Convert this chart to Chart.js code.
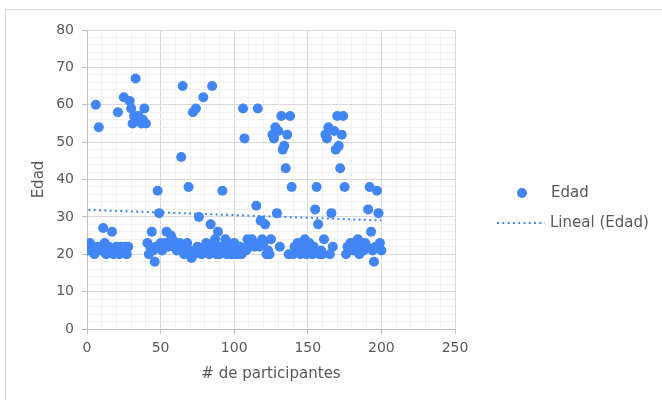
<!DOCTYPE html>
<html>
<head>
<meta charset="utf-8">
<script src="https://cdn.jsdelivr.net/npm/chart.js@4.4.1/dist/chart.umd.min.js"></script>
<style>
  html, body { margin: 0; padding: 0; background: #fff; }
  #wrap { position: relative; width: 662px; height: 400px; overflow: hidden; }
  #frame { position: absolute; left: 5px; top: 9px; width: 700px; height: 420px; border: 1px solid #d9d9d9; box-sizing: border-box; }
  canvas { position: absolute; left: 0; top: 0; }
</style>
</head>
<body>
<div id="wrap">
  <div id="frame"></div>
  <canvas id="chart" width="662" height="400"></canvas>
</div>
<script>
// Edad de cada participante (participante 1..200)
const edades = [
  21, 23, 22, 21, 20, 60, 22, 54, 21, 22,
  27, 23, 20, 21, 22, 21, 26, 20, 21, 22,
  58, 20, 22, 21, 62, 22, 20, 22, 61, 59,
  55, 57, 67, 56, 57, 56, 55, 56, 59, 55,
  23, 20, 22, 26, 21, 18, 22, 37, 31, 23,
  21, 22, 23, 26, 22, 23, 25, 24, 22, 23,
  21, 22, 23, 46, 65, 20, 22, 23, 38, 21,
  19, 58, 20, 59, 22, 30, 21, 20, 62, 22,
  23, 21, 20, 28, 65, 22, 24, 20, 26, 20,
  22, 37, 21, 24, 20, 23, 21, 20, 22, 23,
  20, 21, 20, 22, 20, 59, 51, 21, 24, 23,
  22, 24, 23, 22, 33, 59, 22, 29, 24, 23,
  28, 20, 21, 20, 24, 52, 51, 54, 31, 53,
  22, 57, 48, 49, 43, 52, 20, 57, 38, 20,
  22, 21, 23, 22, 20, 23, 21, 24, 20, 22,
  23, 21, 20, 22, 32, 38, 28, 20, 21, 20,
  24, 52, 51, 54, 20, 31, 22, 53, 48, 57,
  49, 43, 52, 57, 38, 20, 22, 21, 23, 22,
  21, 23, 22, 24, 20, 23, 22, 21, 23, 22,
  32, 38, 26, 21, 18, 22, 37, 31, 23, 21
];
const participantes = edades.map((e, i) => i + 1);

const xTicks = [0, 50, 100, 150, 200, 250];
const yTicks = [0, 10, 20, 30, 40, 50, 60, 70, 80];

const puntos = participantes.map((p, i) => ({ x: p, y: edades[i] }));

// linea de tendencia lineal (minimos cuadrados), como en Excel
const n = edades.length;
const mx = participantes.reduce((a, b) => a + b, 0) / n;
const my = edades.reduce((a, b) => a + b, 0) / n;
let sxy = 0, sxx = 0;
for (let i = 0; i < n; i++) {
    sxy += (participantes[i] - mx) * (edades[i] - my);
    sxx += (participantes[i] - mx) * (participantes[i] - mx);
}
const pendiente = sxy / sxx;
const corte = my - pendiente * mx;
const xMin = participantes[0], xMax = participantes[n - 1];
const tendencia = [
    { x: xMin, y: corte + pendiente * xMin },
    { x: xMax, y: corte + pendiente * xMax }
];

const azul = '#4285f4';
const gris = '#595959';
const fuente = { family: 'DejaVu Sans', size: 14 };
const fuenteTitulo = { family: 'DejaVu Sans', size: 15 };

// leyenda dibujada a la derecha, como en el original
const leyenda = {
    id: 'leyenda',
    afterDraw(chart) {
        const ctx = chart.ctx;
        ctx.save();
        ctx.fillStyle = azul;
        ctx.beginPath();
        ctx.arc(522, 193, 5, 0, Math.PI * 2);
        ctx.fill();
        ctx.strokeStyle = azul;
        ctx.lineWidth = 2;
        ctx.setLineDash([2, 3.3]);
        ctx.beginPath();
        ctx.moveTo(497, 223);
        ctx.lineTo(545, 223);
        ctx.stroke();
        ctx.setLineDash([]);
        ctx.fillStyle = gris;
        ctx.font = '15px "DejaVu Sans"';
        ctx.textBaseline = 'middle';
        ctx.fillText('Edad', 551, 193);
        ctx.fillText('Lineal (Edad)', 550, 223);
        ctx.restore();
    }
};

new Chart(document.getElementById('chart'), {
    type: 'scatter',
    data: {
        datasets: [
            {
                label: 'Edad',
                data: puntos,
                backgroundColor: azul,
                borderColor: azul,
                pointRadius: 5,
                pointHoverRadius: 5,
                borderWidth: 0
            },
            {
                label: 'Lineal (Edad)',
                type: 'line',
                data: tendencia,
                borderColor: azul,
                borderWidth: 2,
                borderDash: [2, 3.3],
                pointRadius: 0,
                fill: false
            }
        ]
    },
    plugins: [leyenda],
    options: {
        responsive: false,
        animation: false,
        layout: { padding: { left: 0, right: 207, top: 30, bottom: 0 } },
        plugins: {
            legend: { display: false },
            tooltip: { enabled: false }
        },
        scales: {
            x: {
                type: 'linear',
                min: 0,
                max: 250,
                afterFit: s => { s.height = 71; },
                ticks: {
                    stepSize: 10,
                    color: gris,
                    font: fuente,
                    padding: 6,
                    maxRotation: 0,
                    autoSkip: false,
                    callback: v => xTicks.includes(v) ? v : ''
                },
                grid: {
                    color: c => xTicks.includes(c.tick.value) ? '#d9d9d9' : '#f0f0f0',
                    tickColor: c => xTicks.includes(c.tick.value) ? '#bfbfbf' : 'rgba(0,0,0,0)',
                    tickLength: 5
                },
                border: { color: '#bfbfbf' },
                title: {
                    display: true,
                    text: '# de participantes',
                    color: gris,
                    font: fuenteTitulo,
                    padding: { top: 0, bottom: 17 }
                }
            },
            y: {
                min: 0,
                max: 80,
                afterFit: s => { s.width = 87; },
                ticks: {
                    stepSize: 2,
                    color: gris,
                    font: fuente,
                    padding: 8,
                    autoSkip: false,
                    callback: v => yTicks.includes(v) ? v : ''
                },
                grid: {
                    color: c => yTicks.includes(c.tick.value) ? '#d9d9d9' : '#f0f0f0',
                    tickColor: c => yTicks.includes(c.tick.value) ? '#bfbfbf' : 'rgba(0,0,0,0)',
                    tickLength: 5
                },
                border: { color: '#bfbfbf' },
                title: {
                    display: true,
                    text: 'Edad',
                    color: gris,
                    font: fuenteTitulo,
                    padding: { top: 30, bottom: 0 }
                }
            }
        }
    }
});
</script>
</body>
</html>
